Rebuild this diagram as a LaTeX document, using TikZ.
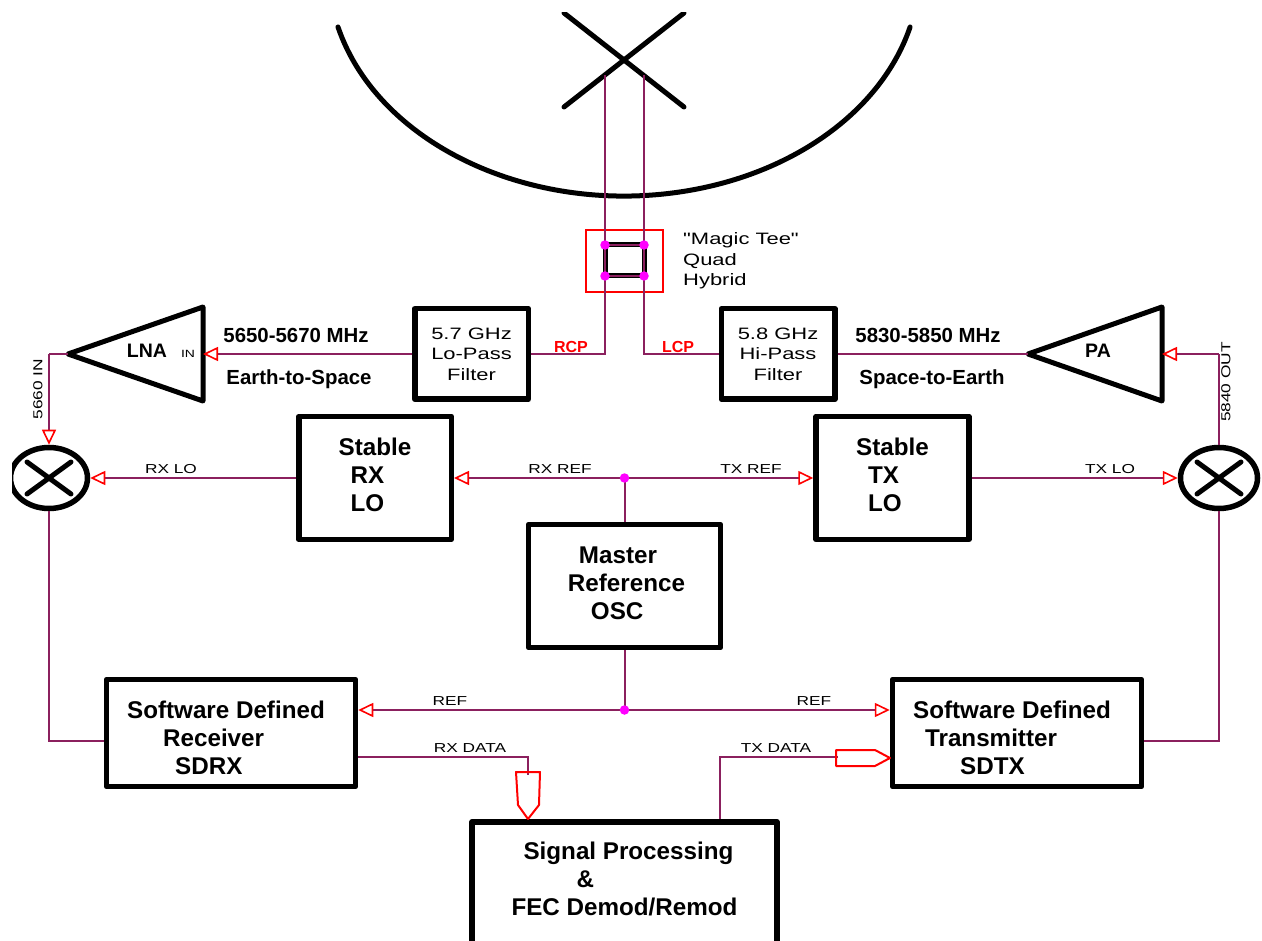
\documentclass[tikz,border=0pt]{standalone}
\usepackage{fontspec}
\setmainfont{Liberation Sans}
\newfontfamily\widefont[FakeStretch=1.33]{Liberation Sans}
\usetikzlibrary{arrows.meta,positioning,calc,shapes.geometric}
\definecolor{dotmagenta}{RGB}{255,0,255}
\definecolor{wirecolor}{RGB}{139,32,94}

\begin{document}
\begin{tikzpicture}[
    x=1pt,y=-1pt,
    wire/.style={draw=wirecolor, line width=2pt},
    wirearrow/.style={wire, -{Triangle[open,color=red,length=15pt,width=14pt,line width=1.6pt]}},
    blockarrow/.style={draw=red, line width=2pt, line join=round},
    thickline/.style={line width=5pt, line join=round, line cap=round},
    box/.style={draw, line width=5.5pt, line join=round, inner sep=0pt, font=\fontsize{24.2}{28}\selectfont\bfseries, align=left},
    filterbox/.style={box, minimum width=113.5pt, minimum height=90.5pt, font=\widefont\fontsize{16.5}{20.5}\selectfont, align=center},
    mixer/.style={draw, ellipse, line width=5.5pt, minimum width=77pt, minimum height=61pt, inner sep=0pt},
    dot/.style={circle, fill=dotmagenta, minimum size=9.5pt, inner sep=0pt},
    tag/.style={font=\widefont\fontsize{13}{15}\selectfont, inner sep=0pt},
    bandtag/.style={font=\fontsize{20.4}{24}\selectfont\bfseries, inner sep=0pt},
    amptag/.style={font=\fontsize{19.5}{23}\selectfont\bfseries, inner sep=0pt},
    poltag/.style={font=\fontsize{16}{19}\selectfont\bfseries, text=red, inner sep=0pt}
  ]
    \useasboundingbox (0,0) rectangle (1262,941);
    \clip (12,13) rectangle (1262,941);

    % Dish and feed
    \draw[thickline] (338,27) arc[start angle=165.4, end angle=14.6, x radius=295.6, y radius=226];
    \draw[thickline] (564,107) -- (684,13);
    \draw[thickline] (684,107) -- (564,13);
    \coordinate (feedr) at (605,75);
    \coordinate (feedl) at (644,75);

    % Quad hybrid
    \draw[red, line width=1.5pt] (586,230) rectangle (663,292);
    \draw[line width=5pt] (605,245) rectangle (644,276);
    \coordinate (hyba) at (605,245);
    \coordinate (hybb) at (644,245);
    \coordinate (hybc) at (644,276);
    \coordinate (hybd) at (605,276);
    \draw[wire] (hyba) -- (hybb) -- (hybc) -- (hybd) -- cycle;
    \node[font=\widefont\fontsize{16.5}{20.5}\selectfont, align=left, anchor=west, inner sep=0pt] (hybtag) at (683,261) {"Magic Tee"\\Quad\\Hybrid};

    % Filters
    \node[filterbox] (lofilt) at (471.5,354) {5.7 GHz\\Lo-Pass\\Filter};
    \node[filterbox] (hifilt) at (778,354) {5.8 GHz\\Hi-Pass\\Filter};
    \coordinate (rcpjoin) at (605,354);
    \coordinate (lcpjoin) at (644,354);
    \draw[wire] (feedr) -- (rcpjoin) -- (lofilt.east);
    \draw[wire] (feedl) -- (lcpjoin) -- (hifilt.west);
    \foreach \corner in {hyba,hybb,hybc,hybd} \node[dot] at (\corner) {};
    \node[poltag] (rcptag) at (571,347) {RCP};
    \node[poltag] (lcptag) at (678,347) {LCP};

    % Amplifiers
    \coordinate (lnatip) at (68,354);
    \coordinate (lnain) at (203,354);
    \coordinate (patip) at (1028,354);
    \coordinate (pain) at (1162,354);
    \draw[thickline] (lnatip) -- (203,307) -- (203,401) -- cycle;
    \draw[thickline] (patip) -- (1162,307) -- (1162,401) -- cycle;
    \node[amptag] (lnatag) at (147,351) {LNA};
    \node[amptag] (patag) at (1098,351) {PA};
    \node[tag, font=\widefont\fontsize{10.5}{12}\selectfont] (intag) at (188,354) {IN};
    \node[bandtag] (rxband) at (296,335) {5650-5670 MHz};
    \node[bandtag] (rxdir) at (299,379) {Earth-to-Space};
    \node[bandtag] (txband) at (928,335) {5830-5850 MHz};
    \node[bandtag] (txdir) at (932,379) {Space-to-Earth};
    \draw[wirearrow] (lofilt.west) -- (lnain);
    \draw[wire] (hifilt.east) -- (patip);

    % Mixers
    \node[mixer] (mixl) at (49,478) {};
    \node[mixer] (mixr) at (1219,478) {};
    \foreach \mix in {mixl,mixr} {
      \draw[thickline] ([shift={(-22,-16)}]\mix.center) -- ([shift={(22,16)}]\mix.center);
      \draw[thickline] ([shift={(-22,16)}]\mix.center) -- ([shift={(22,-16)}]\mix.center);
    }
    \coordinate (rxbend) at (49,354);
    \coordinate (txbend) at (1219,354);
    \draw[wire] (lnatip) -- (rxbend);
    \draw[wirearrow] (rxbend) -- (mixl.north);
    \draw[wire] (mixr.north) -- (txbend);
    \draw[wirearrow] (txbend) -- (pain);
    \node[tag, rotate=90] (rxin) at (38,389) {5660 IN};
    \node[tag, rotate=90] (txout) at (1226,382) {5840 OUT};

    % Local oscillators
    \node[box, minimum width=152.5pt, minimum height=123pt] (rxlo) at (375,478) {Stable\\\hspace*{12pt}RX\\\hspace*{12pt}LO\rule[-6pt]{0pt}{6pt}};
    \node[box, minimum width=153pt, minimum height=123pt] (txlo) at (892.5,478) {Stable\\\hspace*{12pt}TX\\\hspace*{12pt}LO\rule[-6pt]{0pt}{6pt}};
    \node[box, minimum width=192pt, minimum height=123pt] (master) at (624.5,586) {\hspace*{15pt}Master\\\hspace*{4pt}Reference\\\hspace*{27pt}OSC\rule[-6pt]{0pt}{6pt}};
    \coordinate (loref) at (624.5,478);
    \draw[wirearrow] (rxlo.west) -- (mixl.east);
    \draw[wirearrow] (txlo.east) -- (mixr.west);
    \draw[wire] (master.north) -- (loref);
    \draw[wirearrow] (loref) -- (rxlo.east);
    \draw[wirearrow] (loref) -- (txlo.west);
    \node[dot] at (loref) {};
    \node[tag] (rxlotag) at (171,469) {RX LO};
    \node[tag] (rxreftag) at (560,469) {RX REF};
    \node[tag] (txreftag) at (751,469) {TX REF};
    \node[tag] (txlotag) at (1110,469) {TX LO};

    % Software defined radios
    \node[box, minimum width=249pt, minimum height=107pt] (sdrx) at (231,733) {\rule{0pt}{28pt}Software Defined\hspace*{10pt}\\\hspace*{36pt}Receiver\\\hspace*{48pt}SDRX};
    \node[box, minimum width=249pt, minimum height=107pt] (sdtx) at (1017,733) {\rule{0pt}{28pt}Software Defined\hspace*{10pt}\\\hspace*{12pt}Transmitter\\\hspace*{47pt}SDTX};
    \coordinate (refjoin) at (624.5,710);
    \draw[wire] (master.south) -- (refjoin);
    \draw[wirearrow] (refjoin) -- (refjoin -| sdrx.east);
    \draw[wirearrow] (refjoin) -- (refjoin -| sdtx.west);
    \node[dot] at (refjoin) {};
    \node[tag] (reftagl) at (450,701) {REF};
    \node[tag] (reftagr) at (814,701) {REF};
    \coordinate (rxif) at (49,741);
    \coordinate (txif) at (1219,741);
    \draw[wire] (mixl.south) -- (rxif) -- (rxif -| sdrx.west);
    \draw[wire] (mixr.south) -- (txif) -- (txif -| sdtx.east);

    % Signal processing
    \node[box, minimum width=305pt, minimum height=141pt, anchor=north] (proc) at (624.5,819) {\hspace*{12pt}Signal Processing\\\hspace*{65pt}\&\\FEC Demod/Remod\hspace*{5pt}\\\mbox{}};
    \coordinate (rxdata) at (528,757);
    \coordinate (txdata) at (720,757);
    \draw[wire] (sdrx.east |- rxdata) -- (rxdata) -- (528,775);
    \draw[wire] (txdata |- proc.north) -- (txdata) -- (838,757);
    \draw[blockarrow] (516,772) -- (540,772) -- (539,805) -- (528,819) -- (518,805) -- cycle;
    \draw[blockarrow] (836,750) -- (875,750) -- (890,758) -- (875,766) -- (836,766) -- cycle;
    \node[tag] (rxdatatag) at (470,748) {RX DATA};
    \node[tag] (txdatatag) at (776,748) {TX DATA};
  \end{tikzpicture}
\end{document}
